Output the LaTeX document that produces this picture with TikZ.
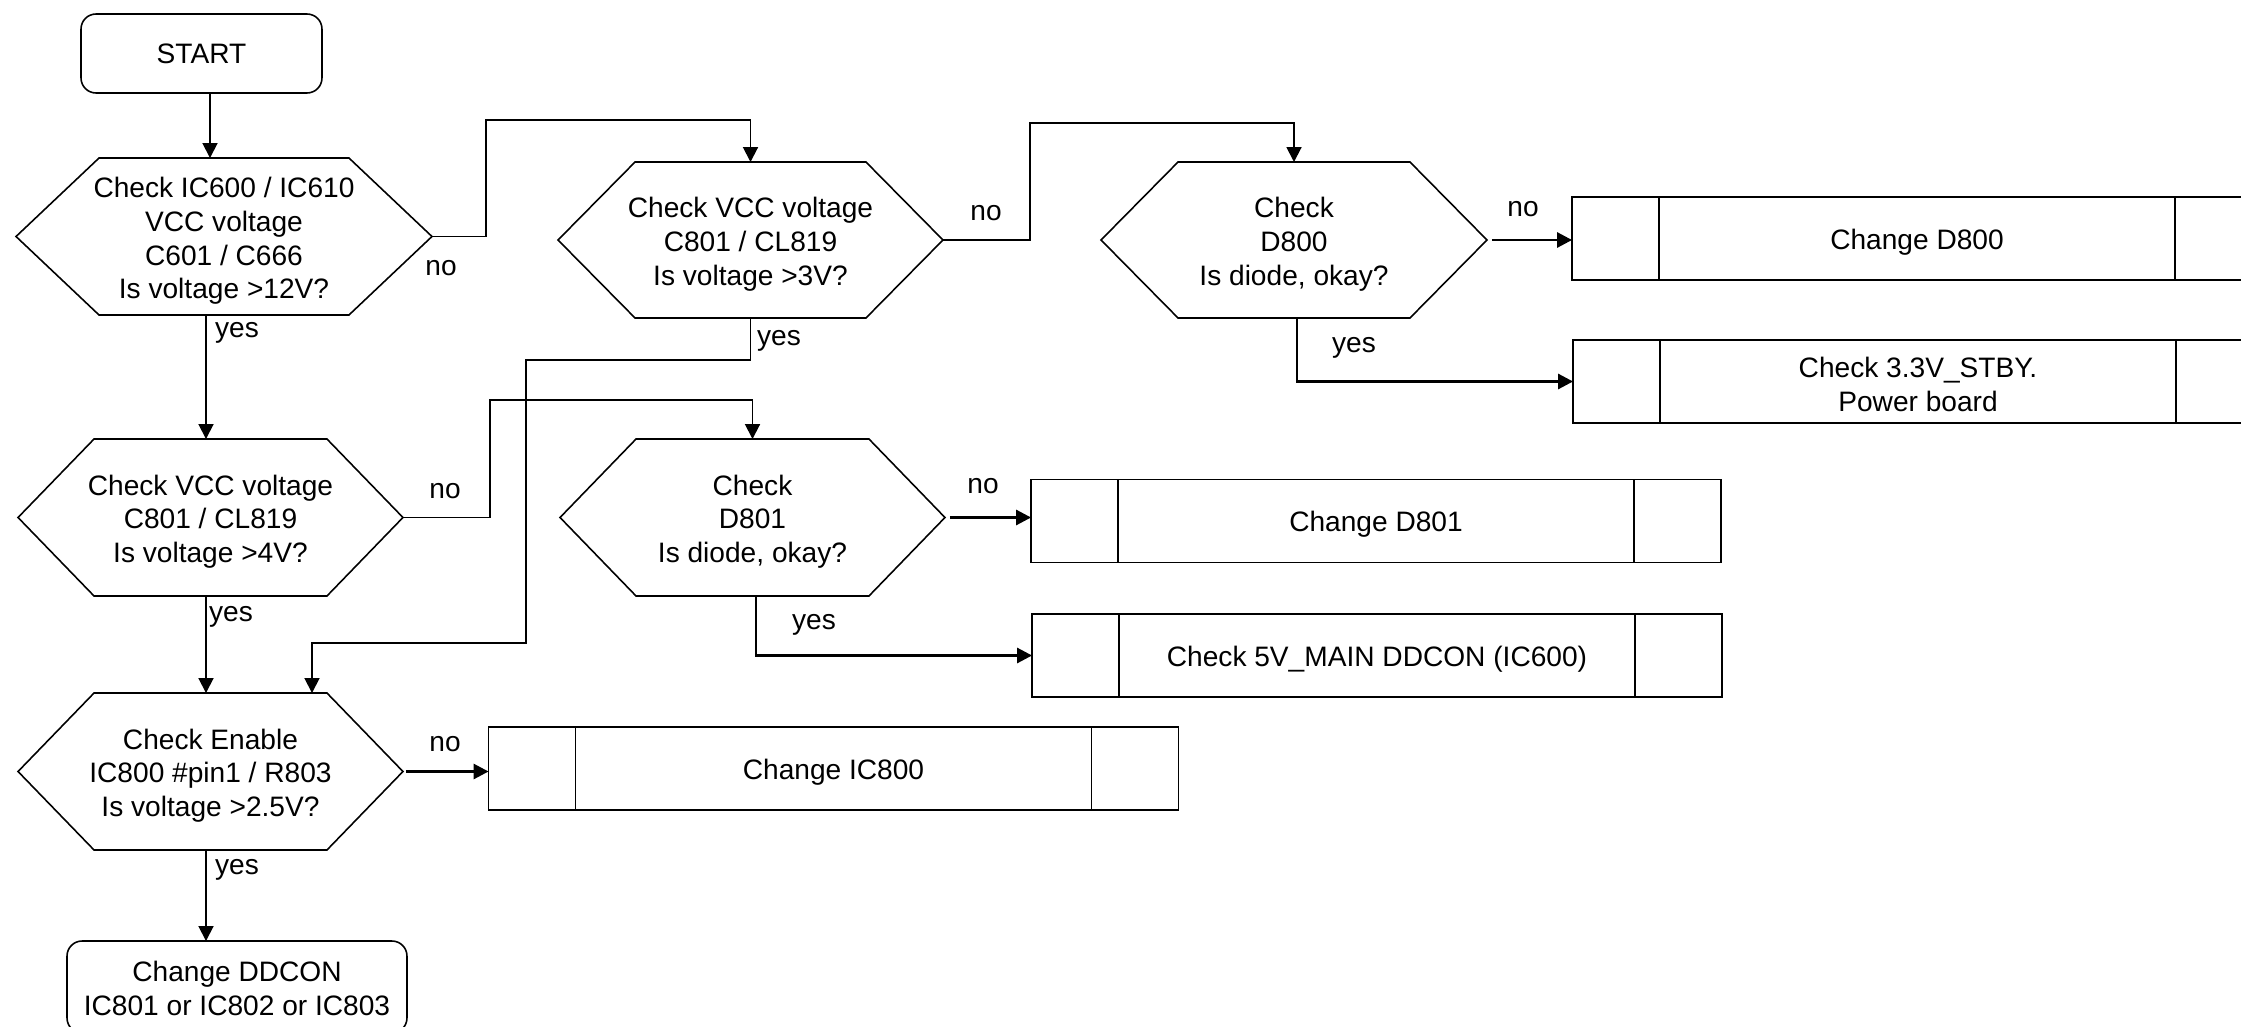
\documentclass[tikz,border=0pt]{standalone}
\usepackage{fontspec}
\setmainfont{Liberation Sans}
\usetikzlibrary{arrows.meta,calc}
\newcommand{\hexout}[2]{\draw[shp] (#1.west) -- ([xshift=#2]#1.north west) -- ([xshift=-#2]#1.north east) -- (#1.east) -- ([xshift=-#2]#1.south east) -- ([xshift=#2]#1.south west) -- cycle;}
\newcommand{\procsides}[1]{\draw[shp] ([xshift=1.74cm]#1.north west) -- ([xshift=1.74cm]#1.south west) ([xshift=-1.74cm]#1.north east) -- ([xshift=-1.74cm]#1.south east);}
\begin{document}
\begin{tikzpicture}[x=0.02cm,y=-0.02cm,
  every node/.style={font=\fontsize{16}{19.2}\selectfont, inner sep=0pt, outer sep=0pt},
  hexnode/.style={minimum height=3.14cm},
  txt/.style={align=center},
  shp/.style={line width=0.9pt, line join=miter},
  arr/.style={line width=1.1pt, -{Triangle[length=8.5pt,width=8.5pt]}},
  arrb/.style={line width=1.6pt, -{Triangle[length=8.5pt,width=8.5pt]}},
  procbox/.style={draw, line width=1pt, minimum width=13.8cm, minimum height=1.66cm},
  term/.style={draw, rounded corners=0.3cm, line width=0.9pt, align=center}]
\useasboundingbox (0,0) rectangle (2241,1027);
\clip (0,0) rectangle (2241,1027);
\fill[white] (0,0) rectangle (2241,1027);

% terminals
\node[term, minimum width=4.82cm, minimum height=1.58cm] (start) at (201.5,53.5) {START};
\node[term, minimum width=6.8cm, minimum height=1.84cm] (end) at (237,987) {};
\node[txt] (tend) at ([yshift=-0.03cm]end.center) {Change DDCON\\IC801 or IC802 or IC803};

% decisions
\node[hexnode, minimum width=8.32cm] (h1) at (224,236.5) {};
\hexout{h1}{1.66cm}
\node[txt] (t1) at ([yshift=-0.09cm]h1.center) {Check IC600 / IC610\\VCC voltage\\C601 / C666\\Is voltage >12V?};
\node[hexnode, minimum width=7.7cm, minimum height=3.12cm] (h2) at (750.5,240) {};
\hexout{h2}{1.54cm}
\node[txt] (t2) at ([yshift=-0.08cm]h2.center) {Check VCC voltage\\C801 / CL819\\Is voltage >3V?};
\node[hexnode, minimum width=7.72cm, minimum height=3.12cm] (h3) at (1294,240) {};
\hexout{h3}{1.54cm}
\node[txt] (t3) at ([yshift=-0.08cm]h3.center) {Check\\D800\\Is diode, okay?};
\node[hexnode, minimum width=7.7cm] (h4) at (210.5,517.5) {};
\hexout{h4}{1.52cm}
\node[txt] (t4) at ([yshift=-0.08cm]h4.center) {Check VCC voltage\\C801 / CL819\\Is voltage >4V?};
\node[hexnode, minimum width=7.7cm] (h5) at (752.5,517.5) {};
\hexout{h5}{1.52cm}
\node[txt] (t5) at ([yshift=-0.08cm]h5.center) {Check\\D801\\Is diode, okay?};
\node[hexnode, minimum width=7.7cm] (h6) at (210.5,771.5) {};
\hexout{h6}{1.52cm}
\node[txt] (t6) at ([yshift=-0.08cm]h6.center) {Check Enable\\IC800 \#pin1 / R803\\Is voltage >2.5V?};

% process boxes
\node[procbox] (bD800) at (1917,238.5) {};
\procsides{bD800}
\node[txt] (tD800) at ([yshift=-0.08cm]bD800.center) {Change D800};
\node[procbox] (b33) at (1918,381.5) {};
\procsides{b33}
\node[txt] (t33) at ([yshift=-0.06cm]b33.center) {Check 3.3V\_STBY.\\Power board};
\node[procbox] (bD801) at (1376,521) {};
\procsides{bD801}
\node[txt] (tD801) at ([yshift=-0.07cm]bD801.center) {Change D801};
\node[procbox] (b5V) at (1377,655.5) {};
\procsides{b5V}
\node[txt] (t5V) at ([yshift=-0.08cm]b5V.center) {Check 5V\_MAIN DDCON (IC600)};
\node[procbox] (bIC) at (833.5,768.5) {};
\procsides{bIC}
\node[txt] (tIC) at ([yshift=-0.08cm]bIC.center) {Change IC800};

% helper columns
\coordinate (xa) at (210,0);
\coordinate (xb) at (206,0);
\coordinate (xc) at (312,0);

% connectors
\draw[arr] (start.south -| xa) -- (h1.north -| xa);
\draw[arr] (h1.east) -- ++(54,0) |- ([yshift=0.84cm]h2.north) -- (h2.north);
\draw[arr] (h1.south -| xb) -- (h4.north -| xb);
\draw[arr] (h2.east) -- ++(87,0) |- ([yshift=0.78cm]h3.north) -- (h3.north);
\draw[arr] (h2.south) |- (526,360) |- (312,643) -- (h6.north -| xc);
\draw[arr] (h4.east) -- ++(87,0) |- ([yshift=0.78cm]h5.north) -- (h5.north);
\draw[arr] (h4.south -| xb) -- (h6.north -| xb);
\draw[arrb] ([xshift=0.1cm]h3.east) -- (h3.east -| bD800.west);
\draw[arrb] ([xshift=0.06cm]h3.south) |- (b33.west);
\draw[arrb] ([xshift=0.1cm]h5.east) -- (h5.east -| bD801.west);
\draw[arrb] ([xshift=0.07cm]h5.south) |- (b5V.west);
\draw[arrb] ([xshift=0.06cm]h6.east) -- (h6.east -| bIC.west);
\draw[arr] (h6.south -| xb) -- (end.north -| xb);

% labels
\node (n1) at (441,268) {no};
\node (y1) at (237,333) {yes};
\node (n2) at (986,213) {no};
\node (y2) at (779,341) {yes};
\node (n3) at (1523,209) {no};
\node (y3) at (1354,348) {yes};
\node (n4) at (445,491) {no};
\node (y4) at (231,617) {yes};
\node (n5) at (983,486) {no};
\node (y5) at (814,625) {yes};
\node (n6) at (445,744) {no};
\node (y6) at (237,870) {yes};
\end{tikzpicture}
\end{document}
